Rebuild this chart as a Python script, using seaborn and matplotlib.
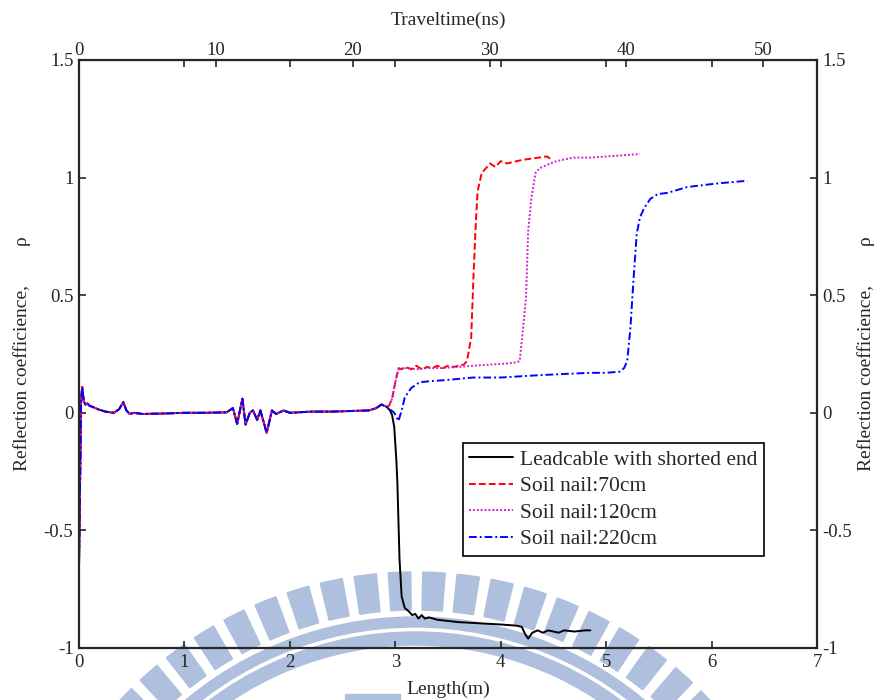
import numpy as np
import pandas as pd
import matplotlib
matplotlib.use("Agg")
import matplotlib.pyplot as plt
import matplotlib.patches as mpatches
from matplotlib.ticker import FixedLocator, FixedFormatter
import seaborn as sns

# ---- data -------------------------------------------------------------
# shared part of every trace (before the end of the lead cable)
common_len = [0.00, 0.01, 0.02, 0.03, 0.045, 0.06, 0.08, 0.10, 0.13, 0.18,
              0.25, 0.33, 0.38, 0.42, 0.45, 0.48, 0.52, 0.60, 0.80, 1.00,
              1.20, 1.40, 1.46, 1.50, 1.55, 1.58, 1.62, 1.65, 1.69, 1.72,
              1.78, 1.83, 1.87, 1.94, 2.00, 2.20, 2.40, 2.60, 2.75, 2.82,
              2.87, 2.92]
common_rho = [-0.66, -0.30, 0.05, 0.11, 0.05, 0.035, 0.04, 0.03, 0.025, 0.015,
              0.005, 0.0, 0.015, 0.045, 0.01, -0.005, 0.0, -0.005, -0.003, 0.0,
              0.0, 0.002, 0.02, -0.047, 0.06, -0.05, 0.0, 0.01, -0.03, 0.01,
              -0.085, 0.01, -0.005, 0.01, 0.0, 0.005, 0.005, 0.008, 0.01, 0.02,
              0.035, 0.025]

lead_len = [2.95, 2.97, 2.99, 3.01, 3.02, 3.04, 3.06, 3.09, 3.13, 3.16, 3.19,
            3.22, 3.25, 3.28, 3.32, 3.40, 3.60, 3.80, 4.00, 4.15, 4.20, 4.23,
            4.26, 4.30, 4.35, 4.40, 4.45, 4.50, 4.55, 4.60, 4.70, 4.80, 4.85]
lead_rho = [0.01, -0.01, -0.06, -0.20, -0.30, -0.62, -0.78, -0.83, -0.845,
            -0.86, -0.855, -0.875, -0.86, -0.875, -0.87, -0.88, -0.89, -0.895,
            -0.90, -0.905, -0.91, -0.94, -0.96, -0.935, -0.925, -0.935, -0.925,
            -0.93, -0.935, -0.925, -0.93, -0.925, -0.925]

nail70_len = [2.94, 2.97, 3.00, 3.03, 3.06, 3.10, 3.15, 3.20, 3.25, 3.30,
              3.35, 3.40, 3.45, 3.50, 3.55, 3.60, 3.65, 3.68, 3.72, 3.74,
              3.76, 3.78, 3.82, 3.90, 3.95, 4.00, 4.06, 4.20, 4.36, 4.44, 4.47]
nail70_rho = [0.03, 0.06, 0.13, 0.19, 0.185, 0.195, 0.185, 0.20, 0.185, 0.195,
              0.19, 0.20, 0.19, 0.20, 0.195, 0.20, 0.205, 0.22, 0.32, 0.56,
              0.77, 0.94, 1.02, 1.06, 1.045, 1.07, 1.06, 1.075, 1.085, 1.09, 1.08]

nail120_len = [2.94, 2.97, 3.00, 3.03, 3.10, 3.20, 3.30, 3.42, 3.60, 3.74,
               3.90, 4.07, 4.15, 4.18, 4.21, 4.24, 4.26, 4.29, 4.33, 4.37,
               4.47, 4.53, 4.69, 4.85, 5.01, 5.32]
nail120_rho = [0.03, 0.06, 0.13, 0.185, 0.19, 0.185, 0.19, 0.19, 0.195, 0.20,
               0.205, 0.21, 0.215, 0.22, 0.35, 0.49, 0.77, 0.91, 1.02, 1.04,
               1.06, 1.07, 1.085, 1.085, 1.09, 1.10]

nail220_len = [2.95, 2.99, 3.03, 3.06, 3.09, 3.15, 3.23, 3.35, 3.50, 3.74,
               4.00, 4.37, 4.60, 4.85, 5.00, 5.13, 5.17, 5.20, 5.23, 5.26,
               5.29, 5.32, 5.36, 5.42, 5.49, 5.58, 5.77, 6.05, 6.30, 6.34]
nail220_rho = [0.015, 0.0, -0.035, 0.01, 0.065, 0.105, 0.13, 0.135, 0.14, 0.15,
               0.15, 0.16, 0.165, 0.17, 0.17, 0.175, 0.19, 0.22, 0.36, 0.57,
               0.76, 0.83, 0.87, 0.91, 0.93, 0.935, 0.96, 0.975, 0.985, 0.985]

series_names = ["Leadcable with shorted end", "Soil nail:70cm",
                "Soil nail:120cm", "Soil nail:220cm"]
series_len = [lead_len, nail70_len, nail120_len, nail220_len]
series_rho = [lead_rho, nail70_rho, nail120_rho, nail220_rho]

x_ticks = [0, 1, 2, 3, 4, 5, 6, 7]
y_ticks = [-1, -0.5, 0, 0.5, 1, 1.5]
y_tick_labels = ["-1", "-0.5", "0", "0.5", "1", "1.5"]
ns_ticks = [0, 10, 20, 30, 40, 50]
ns_per_m = 7.704  # two-way travel time per metre of cable

# ---- style --------------------------------------------------------------
sns.set_style("ticks")
plt.rcParams["font.family"] = ["Liberation Serif", "DejaVu Serif"]
plt.rcParams["axes.unicode_minus"] = False

frames = []
for name, L, r in zip(series_names, series_len, series_rho):
    frames.append(pd.DataFrame({"Length": common_len + L,
                                "rho": common_rho + r,
                                "trace": name}))
df = pd.concat(frames, ignore_index=True)

W, H = 881, 700
fig = plt.figure(figsize=(W / 100, H / 100), dpi=100)
fig.patch.set_facecolor("white")

# background emblem: arc of radial bars with two rings (pixel coordinates)
emb_col = "#afbfde"
ecx, ecy = 415, H - 975
for k in range(40):
    a = 22 + k * 4.9
    if a > 160:
        break
    fig.patches.append(mpatches.Wedge((ecx, ecy), 403, a, a + 3.2, width=38,
                                      transform=None, color=emb_col, zorder=-5))
for r_out, width in [(358, 10), (343, 13)]:
    fig.patches.append(mpatches.Wedge((ecx, ecy), r_out, 0, 180, width=width,
                                      transform=None, color=emb_col, zorder=-5))
fig.patches.append(mpatches.Rectangle((345, 0), 55, 6, transform=None,
                                      color=emb_col, zorder=-5))

ax = fig.add_axes([79 / W, 1 - 648 / H, 738 / W, 588 / H])
ax.set_facecolor("none")

palette = {"Leadcable with shorted end": "black", "Soil nail:70cm": "red",
           "Soil nail:120cm": "#d020d0", "Soil nail:220cm": "blue"}
dashes = {"Leadcable with shorted end": "",
          "Soil nail:70cm": (3.5, 1.6),
          "Soil nail:120cm": (1, 1),
          "Soil nail:220cm": (4, 1.5, 1, 1.5)}
sns.lineplot(data=df, x="Length", y="rho", hue="trace", style="trace",
             palette=palette, dashes=dashes, sort=False, estimator=None,
             linewidth=1.4, ax=ax, legend=True)

ax.set_xlim(0, 7)
ax.set_ylim(-1, 1.5)
ax.xaxis.set_major_locator(FixedLocator(x_ticks))
ax.yaxis.set_major_locator(FixedLocator(y_ticks))
ax.yaxis.set_major_formatter(FixedFormatter(y_tick_labels))
ax.tick_params(direction="in", length=5, width=1.2, top=True, right=True,
               labelright=True, labelsize=13.5, pad=4)
for s in ax.spines.values():
    s.set_visible(True)
    s.set_linewidth(1.6)
ax.set_xlabel("Length(m)", fontsize=14, labelpad=7)
ylab = "Reflection coefficience,        \u03c1"
ax.set_ylabel(ylab, fontsize=14, labelpad=9)
ax.text(1.067, 0.5, ylab, transform=ax.transAxes, rotation=90,
        fontsize=14, ha="center", va="center")

sec = ax.secondary_xaxis("top", functions=(lambda L: L * ns_per_m,
                                           lambda t: t / ns_per_m))
sec.set_xticks(ns_ticks)
sec.tick_params(direction="in", length=5, width=1.2, labelsize=13.5, pad=1)
sec.set_xlabel("Traveltime(ns)", fontsize=14, labelpad=12)

leg = ax.legend(loc="upper left", bbox_to_anchor=((463 - 79) / 738, (648 - 443) / 588),
                borderaxespad=0, frameon=True, fancybox=False, fontsize=15.5,
                handlelength=2.0, borderpad=0.3, labelspacing=0.3,
                handletextpad=0.35)
leg.get_frame().set_edgecolor("black")
leg.get_frame().set_linewidth(1.2)
leg.get_frame().set_alpha(1)

fig.savefig("out.png", dpi=100)
